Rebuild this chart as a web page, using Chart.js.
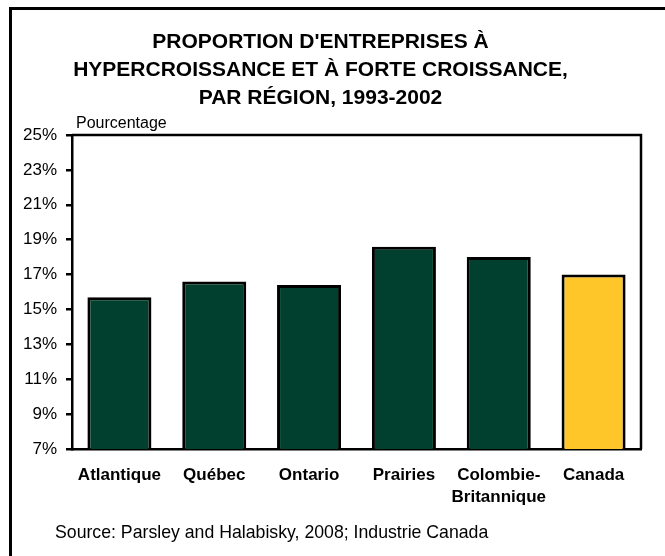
<!DOCTYPE html>
<html>
<head>
<meta charset="utf-8">
<script src="https://cdn.jsdelivr.net/npm/chart.js@4"></script>
<style>
  html, body { margin: 0; padding: 0; background: #fff; }
  #wrap { width: 665px; height: 556px; }
</style>
</head>
<body>
<div id="wrap"><canvas id="c" width="665" height="556"></canvas></div>
<script>
const categories = ['Atlantique', 'Québec', 'Ontario', 'Prairies', ['Colombie-', 'Britannique'], 'Canada'];
const values = [15.7, 16.6, 16.4, 18.6, 18.0, 17.0];
const barColors = ['#013F2E', '#013F2E', '#013F2E', '#013F2E', '#013F2E', '#FFC629'];
const titleLines = ["PROPORTION D'ENTREPRISES À", "HYPERCROISSANCE ET À FORTE CROISSANCE,", "PAR RÉGION, 1993-2002"];
const yAxisLabel = 'Pourcentage';
const sourceText = 'Source: Parsley and Halabisky, 2008; Industrie Canada';
const yMin = 7, yMax = 25, yStep = 2;

const FONT = 'Arial, "Liberation Sans", Helvetica, sans-serif';

const decor = {
  id: 'decor',
  afterDraw(chart) {
    const ctx = chart.ctx;
    const a = chart.chartArea;
    ctx.save();
    // plot box top & right
    ctx.strokeStyle = '#000';
    ctx.lineWidth = 2.5;
    ctx.beginPath();
    ctx.moveTo(a.left, a.top);
    ctx.lineTo(a.right, a.top);
    ctx.lineTo(a.right, a.bottom);
    ctx.stroke();
    // outer frame (left & top)
    ctx.lineWidth = 3;
    ctx.beginPath();
    ctx.moveTo(10.5, 556);
    ctx.lineTo(10.5, 8.5);
    ctx.lineTo(665, 8.5);
    ctx.stroke();
    // axis label
    ctx.fillStyle = '#000';
    ctx.textAlign = 'left';
    ctx.textBaseline = 'alphabetic';
    ctx.font = '16px ' + FONT;
    ctx.fillText(yAxisLabel, 76, 128);
    // source
    ctx.font = '17.7px ' + FONT;
    ctx.fillText(sourceText, 55, 538);
    ctx.restore();
  }
};

new Chart(document.getElementById('c'), {
  type: 'bar',
  data: {
    labels: categories,
    datasets: [{
      data: values,
      backgroundColor: barColors,
      borderColor: '#000',
      borderWidth: 3,
      barPercentage: 0.675,
      categoryPercentage: 1.0
    }]
  },
  options: {
    responsive: false,
    devicePixelRatio: 1,
    animation: false,
    layout: { padding: { left: 0, right: 24, top: 0, bottom: 48 } },
    plugins: {
      legend: { display: false },
      tooltip: { enabled: false },
      title: {
        display: true,
        text: titleLines,
        color: '#000',
        font: { family: FONT, size: 21, weight: 'bold', lineHeight: 28 / 21 },
        padding: { top: 28, bottom: 23 }
      }
    },
    scales: {
      x: {
        grid: { display: true, drawOnChartArea: false, drawTicks: false },
        border: { display: true, color: '#000', width: 2.5 },
        ticks: {
          color: '#000',
          font: { family: FONT, size: 17, weight: 'bold', lineHeight: 1.3 },
          padding: 15,
          maxRotation: 0,
          autoSkip: false
        },
        afterFit(scale) { scale.height = 59; }
      },
      y: {
        min: yMin,
        max: yMax,
        grid: { display: true, drawOnChartArea: false, drawTicks: true, tickLength: 6, color: '#000', lineWidth: 2.5 },
        border: { display: true, color: '#000', width: 2.5 },
        ticks: {
          stepSize: yStep,
          color: '#000',
          padding: 9,
          font: { family: FONT, size: 17 },
          callback: (v) => v + '%'
        },
        afterFit(scale) { scale.width = 72; }
      }
    }
  },
  plugins: [decor]
});
</script>
</body>
</html>
